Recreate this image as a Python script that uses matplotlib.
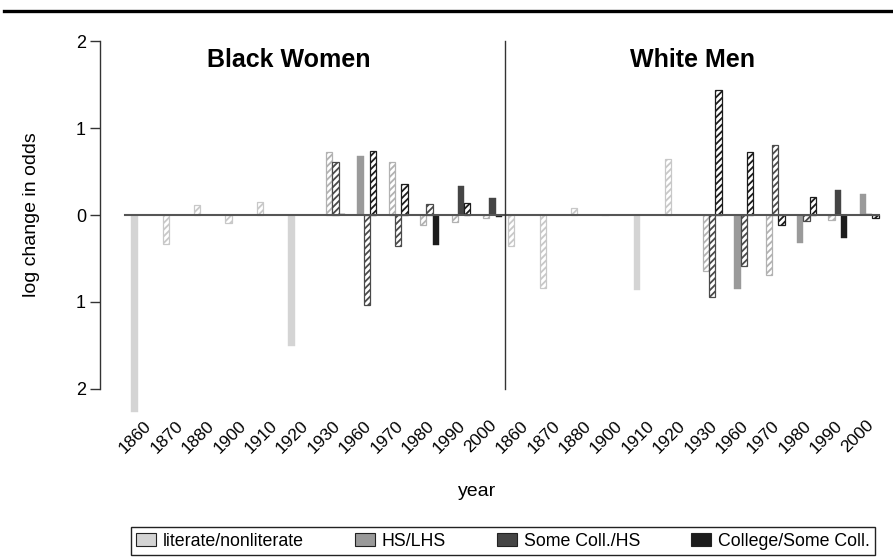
import numpy as np
import matplotlib
matplotlib.use("Agg")
import matplotlib.pyplot as plt
from matplotlib.patches import Patch
from matplotlib.lines import Line2D

plt.rcParams['font.family'] = ['Liberation Sans', 'DejaVu Sans']
plt.rcParams['hatch.linewidth'] = 1.3

nan = np.nan

years = ["1860", "1870", "1880", "1900", "1910", "1920",
         "1930", "1960", "1970", "1980", "1990", "2000"]
panels = ["Black Women", "White Men"]
series = ["literate/nonliterate", "HS/LHS", "Some Coll./HS", "College/Some Coll."]

# log change in odds, Black Women
bw_literate = [-2.26, -0.33, 0.11, -0.09, 0.15, -1.51, nan, nan, nan, nan, nan, nan]
bw_hs       = [nan, nan, nan, nan, nan, nan, 0.73, 0.68, 0.61, -0.11, -0.08, -0.04]
bw_somecoll = [nan, nan, nan, nan, nan, nan, 0.61, -1.03, -0.36, 0.13, 0.33, 0.19]
bw_college  = [nan, nan, nan, nan, nan, nan, 0.015, 0.74, 0.36, -0.34, 0.14, -0.02]

# log change in odds, White Men
wm_literate = [-0.36, -0.84, 0.08, -0.01, -0.86, 0.64, nan, nan, nan, nan, nan, nan]
wm_hs       = [nan, nan, nan, nan, nan, nan, -0.64, -0.85, -0.69, -0.32, -0.06, 0.24]
wm_somecoll = [nan, nan, nan, nan, nan, nan, -0.94, -0.59, 0.80, -0.07, 0.29, 0.01]
wm_college  = [nan, nan, nan, nan, nan, nan, 1.44, 0.73, -0.11, 0.21, -0.26, -0.04]

# 1 = significant (solid bar), 0 = not significant (hatched bar)
bw_literate_sig = [1, 0, 0, 0, 0, 1, 0, 0, 0, 0, 0, 0]
bw_hs_sig       = [0, 0, 0, 0, 0, 0, 0, 1, 0, 0, 0, 0]
bw_somecoll_sig = [0, 0, 0, 0, 0, 0, 0, 0, 0, 0, 1, 1]
bw_college_sig  = [0, 0, 0, 0, 0, 0, 1, 0, 0, 1, 0, 1]

wm_literate_sig = [0, 0, 0, 1, 1, 0, 0, 0, 0, 0, 0, 0]
wm_hs_sig       = [0, 0, 0, 0, 0, 0, 0, 1, 0, 1, 0, 1]
wm_somecoll_sig = [0, 0, 0, 0, 0, 0, 0, 0, 0, 0, 1, 1]
wm_college_sig  = [0, 0, 0, 0, 0, 0, 0, 0, 0, 0, 1, 0]

fill_colors = ["#d4d4d4", "#9a9a9a", "#454545", "#1c1c1c"]
hatch_colors = ["#c8c8c8", "#b2b2b2", "#4a4a4a", "#1c1c1c"]

values = [[bw_literate, bw_hs, bw_somecoll, bw_college],
          [wm_literate, wm_hs, wm_somecoll, wm_college]]
signif = [[bw_literate_sig, bw_hs_sig, bw_somecoll_sig, bw_college_sig],
          [wm_literate_sig, wm_hs_sig, wm_somecoll_sig, wm_college_sig]]

fig = plt.figure(figsize=(8.93, 5.6), dpi=100)
ax = fig.add_axes([100 / 893, 145 / 560, 785 / 893, 380 / 560])

n_years = len(years)
for p in range(2):
    for j in range(4):
        for k in range(n_years):
            v = values[p][j][k]
            if np.isnan(v):
                continue
            g = p * n_years + k
            left = 5 * g + 1 + j
            if signif[p][j][k]:
                ax.bar(left, v, width=1, align='edge', color=fill_colors[j],
                       edgecolor=fill_colors[j], linewidth=0.3, zorder=2)
            else:
                ax.bar(left, v, width=1, align='edge', facecolor='white',
                       edgecolor=hatch_colors[j], hatch='/////', linewidth=0.9,
                       zorder=2)

# zero reference line and panel divider
ax.plot([0, 120], [0, 0], color='#555555', lw=1.5, zorder=3)
ax.plot([60.5, 60.5], [-2, 2], color='#333333', lw=1.0, zorder=3)

ax.text(26, 1.78, panels[0], ha='center', va='center', fontsize=18, fontweight='bold')
ax.text(90.4, 1.78, panels[1], ha='center', va='center', fontsize=18, fontweight='bold')

ax.set_xlim(-3.98, 121.0)
ax.set_ylim(-2.30, 2.07)

centers = [5 * g + 3 for g in range(2 * n_years)]
ax.set_xticks(centers)
ax.set_xticklabels(years * 2, rotation=45, ha='right', va='top',
                   rotation_mode='anchor', fontsize=12.5)
ax.tick_params(axis='x', length=0, pad=2)

ax.set_yticks([-2, -1, 0, 1, 2])
ax.set_yticklabels(["2", "1", "0", "1", "2"])
ax.tick_params(axis='y', length=7, width=1, labelsize=13, pad=3, color='#333333')

for side in ["top", "right", "bottom"]:
    ax.spines[side].set_visible(False)
ax.spines['left'].set_bounds(-2, 2)
ax.spines['left'].set_color('#333333')
ax.spines['left'].set_linewidth(1.0)

ax.set_ylabel("log change in odds", fontsize=14)
ax.yaxis.set_label_coords(-0.076, 0.526)
ax.set_xlabel("year", fontsize=14)
ax.xaxis.set_label_coords(0.480, -0.18)

# heavy rule across the top
fig.add_artist(Line2D([4 / 893, 1.0], [1 - 11 / 560, 1 - 11 / 560],
                      color='black', lw=2.4, transform=fig.transFigure))

handles = [Patch(facecolor=c, edgecolor='#222222', linewidth=0.8) for c in fill_colors]
fig.legend(handles, series, loc='lower left',
           bbox_to_anchor=(131 / 893, 5 / 560, 744 / 893, 28 / 560),
           mode='expand', ncol=4, fancybox=False, edgecolor='#222222',
           framealpha=1, borderaxespad=0, fontsize=12.8, handlelength=1.1,
           handleheight=0.75, borderpad=0.3, handletextpad=0.4)

fig.savefig("out.png", dpi=100)
